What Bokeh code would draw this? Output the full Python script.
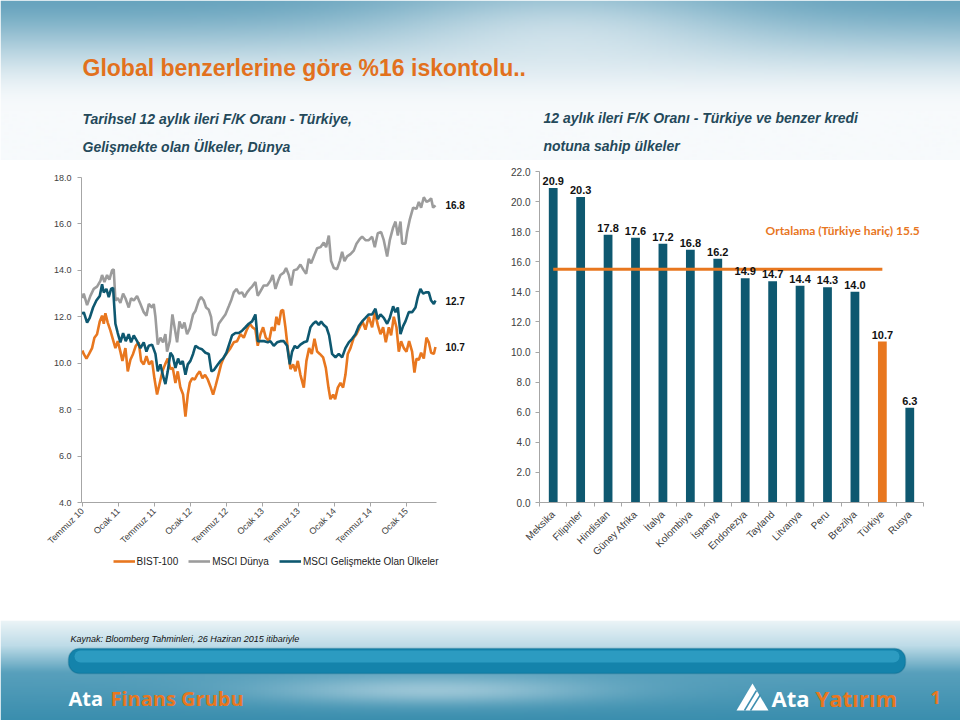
import numpy as np
from math import pi
from bokeh.plotting import figure
from bokeh.layouts import column, row
from bokeh.models import (Range1d, FixedTicker, NumeralTickFormatter, Legend, LegendItem,
                          Label, BoxAnnotation)
from bokeh.core.properties import value
from bokeh.embed import file_html
from bokeh.resources import INLINE

# ---------------- data ----------------
TITLE = "Global benzerlerine göre %16 iskontolu.."
SUB_LEFT = ["Tarihsel 12 aylık ileri F/K Oranı -  Türkiye,", "Gelişmekte olan Ülkeler, Dünya"]
SUB_RIGHT = ["12 aylık ileri F/K Oranı -  Türkiye ve benzer kredi", "notuna sahip ülkeler"]
SOURCE = "Kaynak: Bloomberg Tahminleri, 26 Haziran 2015 itibariyle"

# months since July 2010
tick_months = [0, 6, 12, 18, 24, 30, 36, 42, 48, 54]
tick_labels = ["Temmuz 10", "Ocak 11", "Temmuz 11", "Ocak 12", "Temmuz 12",
               "Ocak 13", "Temmuz 13", "Ocak 14", "Temmuz 14", "Ocak 15"]

bist_m = [0.0, 0.22, 0.67, 1.11, 1.61, 2.0, 2.44, 2.89, 3.28, 3.56,
          3.83, 4.22, 4.67, 5.06, 5.5, 5.89, 6.33, 6.67, 7.17, 7.56,
          8.0, 8.44, 8.89, 9.39, 9.78, 10.22, 10.67, 11.11, 11.61, 12.0,
          12.44, 12.89, 13.33, 13.78, 14.22, 14.67, 15.06, 15.5, 15.89, 16.33,
          16.78, 17.17, 17.56, 17.89, 18.28, 18.72, 19.11, 19.56, 20.0, 20.44,
          20.89, 21.33, 21.78, 22.22, 22.67, 23.11, 23.56, 24.11, 24.67, 25.22,
          25.78, 26.33, 26.89, 27.33, 27.89, 28.33, 28.83, 29.22, 29.67, 30.11,
          30.56, 31.11, 31.56, 32.0, 32.33, 32.72, 33.11, 33.44, 33.83, 34.22,
          34.67, 35.11, 35.5, 35.89, 36.33, 36.89, 37.33, 37.78, 38.22, 38.67,
          39.11, 39.56, 40.11, 40.56, 41.0, 41.33, 41.78, 42.11, 42.56, 43.0,
          43.44, 43.83, 44.22, 44.67, 45.22, 45.67, 46.22, 46.67, 47.17, 47.72,
          48.28, 48.72, 49.22, 49.67, 50.11, 50.56, 51.06, 51.44, 51.89, 52.33,
          52.72, 53.11, 53.56, 54.0, 54.44, 54.94, 55.33, 55.67, 56.06, 56.44,
          56.89, 57.33, 57.72, 58.11, 58.56, 58.83]
bist_v = [10.55, 10.4, 10.2, 10.4, 10.65, 11.1, 11.25, 11.8, 12.05, 11.7,
          12.15, 11.75, 11.4, 11.05, 10.65, 10.95, 10.5, 10.1, 10.65, 9.65,
          10.15, 10.4, 10.75, 10.9, 10.1, 9.95, 10.3, 9.95, 10.1, 9.35,
          8.65, 9.15, 9.65, 9.95, 10.2, 9.75, 9.8, 9.15, 9.65, 8.95,
          8.65, 7.7, 8.65, 9.15, 9.35, 9.3, 9.5, 9.65, 9.35, 9.5,
          9.3, 9.0, 8.65, 9.05, 9.5, 9.95, 10.25, 10.45, 10.65, 10.9,
          10.95, 11.25, 11.1, 11.4, 11.7, 11.55, 11.45, 10.75, 11.25, 11.55,
          11.1, 10.95, 11.55, 11.4, 12.0, 11.65, 12.25, 12.3, 11.55, 10.65,
          9.75, 9.95, 9.65, 10.1, 9.5, 8.95, 10.1, 10.65, 10.4, 11.05,
          10.5, 10.4, 10.25, 9.8, 8.95, 8.45, 8.65, 8.45, 8.95, 9.15,
          8.95, 9.5, 10.4, 10.65, 11.1, 11.25, 11.55, 11.8, 11.45, 12.0,
          11.55, 12.2, 11.65, 11.25, 11.55, 10.9, 11.55, 11.2, 12.0, 11.55,
          10.5, 10.95, 10.65, 10.5, 10.95, 10.5, 9.6, 10.2, 10.15, 10.45,
          10.2, 11.1, 10.9, 10.45, 10.4, 10.7]

dunya_m = [0.0, 0.22, 0.78, 1.33, 1.89, 2.44, 3.0, 3.28, 3.67, 4.11,
           4.5, 4.94, 5.22, 5.5, 5.89, 6.33, 6.78, 7.17, 7.72, 8.11,
           8.56, 9.11, 9.67, 10.22, 10.67, 11.06, 11.61, 11.89, 12.17, 12.56,
           13.0, 13.44, 13.83, 14.11, 14.56, 15.0, 15.39, 15.78, 16.17, 16.61,
           17.0, 17.44, 17.89, 18.44, 18.83, 19.39, 19.78, 20.22, 20.61, 21.06,
           21.44, 21.78, 22.22, 22.72, 23.28, 23.83, 24.39, 24.78, 25.22, 25.67,
           26.11, 26.61, 27.0, 27.44, 27.89, 28.28, 28.83, 29.22, 29.67, 30.22,
           30.78, 31.33, 31.72, 32.17, 32.61, 33.0, 33.56, 33.94, 34.39, 34.78,
           35.22, 35.78, 36.33, 36.89, 37.28, 37.72, 38.11, 38.56, 39.11, 39.67,
           40.22, 40.61, 41.06, 41.44, 41.89, 42.44, 42.89, 43.28, 43.67, 44.11,
           44.67, 45.22, 45.67, 46.22, 46.61, 47.17, 47.72, 48.28, 48.72, 49.22,
           49.78, 50.22, 50.78, 51.22, 51.78, 52.17, 52.56, 53.0, 53.28, 53.83,
           54.11, 54.56, 55.11, 55.67, 56.06, 56.44, 56.89, 57.33, 57.72, 58.11,
           58.44, 58.83]
dunya_v = [12.8, 13.0, 12.5, 12.9, 13.2, 13.3, 13.55, 13.8, 13.5, 13.8,
           13.6, 14.0, 14.05, 12.7, 12.8, 12.6, 13.0, 12.8, 12.4, 12.8,
           12.7, 12.9, 12.55, 12.2, 12.05, 12.55, 12.4, 12.55, 12.0, 10.8,
           11.1, 10.9, 11.25, 10.5, 10.95, 12.1, 11.5, 10.9, 11.8, 11.5,
           11.75, 11.25, 11.5, 12.1, 12.25, 12.7, 12.85, 12.7, 12.4, 12.3,
           12.0, 11.25, 11.2, 11.7, 11.9, 12.1, 12.45, 12.7, 13.05, 13.2,
           13.0, 13.05, 12.85, 13.05, 13.2, 13.3, 13.5, 12.9, 13.1, 13.35,
           13.35, 13.55, 13.8, 13.2, 13.55, 13.8, 13.9, 14.1, 13.8, 13.35,
           14.0, 14.05, 14.25, 14.0, 13.85, 14.5, 14.3, 14.6, 14.95, 15.0,
           15.2, 15.0, 15.5, 14.4, 14.1, 14.05, 14.4, 14.8, 14.4, 14.6,
           14.7, 14.85, 15.15, 15.35, 15.45, 15.3, 15.3, 15.45, 15.0, 15.6,
           15.65, 15.3, 14.6, 15.3, 15.85, 16.1, 15.5, 16.1, 15.15, 15.15,
           15.65, 16.2, 16.7, 16.65, 16.95, 16.7, 17.15, 16.95, 17.0, 17.1,
           16.7, 16.8]

em_m = [0.0, 0.22, 0.78, 1.22, 1.78, 2.33, 2.89, 3.28, 3.56, 4.0,
        4.39, 4.78, 5.11, 5.5, 5.89, 6.33, 6.78, 7.22, 7.72, 8.11,
        8.56, 9.11, 9.67, 10.22, 10.67, 11.06, 11.61, 12.17, 12.56, 13.0,
        13.44, 13.83, 14.22, 14.67, 15.06, 15.5, 15.94, 16.33, 16.72, 17.17,
        17.56, 18.0, 18.44, 18.83, 19.39, 19.94, 20.5, 21.06, 21.5, 21.89,
        22.44, 23.0, 23.44, 24.0, 24.56, 24.94, 25.5, 26.06, 26.61, 27.17,
        27.72, 28.28, 28.83, 29.22, 29.78, 30.33, 30.89, 31.33, 31.89, 32.44,
        33.0, 33.56, 34.11, 34.56, 34.94, 35.39, 35.78, 36.33, 36.89, 37.44,
        38.0, 38.44, 38.89, 39.39, 39.78, 40.22, 40.67, 41.11, 41.61, 42.17,
        42.72, 43.28, 43.83, 44.39, 44.94, 45.5, 46.06, 46.61, 47.17, 47.72,
        48.28, 48.83, 49.22, 49.67, 50.22, 50.78, 51.22, 51.78, 52.17, 52.56,
        53.0, 53.44, 53.83, 54.39, 54.94, 55.5, 55.89, 56.33, 56.78, 57.22,
        57.72, 58.11, 58.56, 58.83]
em_v = [12.1, 12.2, 11.75, 11.95, 12.4, 12.7, 12.9, 13.4, 13.05, 13.2,
        12.85, 13.2, 13.25, 11.7, 11.3, 10.9, 11.3, 10.95, 11.25, 10.9,
        11.2, 10.95, 10.65, 10.9, 10.5, 10.75, 10.8, 10.4, 9.65, 9.95,
        9.45, 9.1, 9.65, 10.45, 10.3, 9.8, 10.2, 9.95, 10.1, 9.5,
        9.95, 10.1, 10.4, 10.75, 10.65, 10.6, 10.45, 10.4, 9.65, 9.7,
        9.9, 10.1, 10.2, 10.45, 10.9, 11.2, 11.3, 11.3, 11.4, 11.55,
        11.7, 11.8, 12.1, 10.95, 10.95, 10.95, 10.9, 10.95, 10.75, 10.9,
        10.95, 10.95, 10.75, 9.95, 10.5, 10.75, 10.65, 10.8, 10.9, 10.95,
        11.55, 11.7, 11.8, 11.65, 11.8, 11.65, 11.55, 11.2, 10.4, 10.25,
        10.4, 10.25, 10.65, 10.9, 11.05, 11.25, 11.6, 11.8, 11.95, 12.1,
        12.1, 12.35, 11.9, 12.1, 11.95, 11.7, 11.95, 12.45, 12.2, 12.4,
        11.25, 11.6, 11.8, 12.2, 12.2, 12.4, 12.85, 13.2, 13.0, 13.05,
        13.05, 12.7, 12.55, 12.7]

series_names = ["BIST-100", "MSCI Dünya", "MSCI Gelişmekte Olan Ülkeler"]

countries = ["Meksika", "Filipinler", "Hindistan", "Güney Afrika", "İtalya", "Kolombiya",
             "İspanya", "Endonezya", "Tayland", "Litvanya", "Peru", "Brezilya", "Türkiye", "Rusya"]
pe_values = [20.9, 20.3, 17.8, 17.6, 17.2, 16.8, 16.2, 14.9, 14.7, 14.4, 14.3, 14.0, 10.7, 6.3]
highlight = "Türkiye"
avg_value = 15.5
avg_text = "Ortalama (Türkiye hariç) 15.5"

# ---------------- style ----------------
FONT = "Liberation Sans"
ORANGE = "#E8771F"
GRAY = "#9C9C9C"
TEAL = "#0E5870"
AXIS = "#A6A6A6"
LABEL = "#404040"
SUBCOL = "#24495A"
W = 960


def plain(p):
    p.min_border = 0
    p.outline_line_color = None
    p.grid.visible = False
    return p


def rgba_image(rgb):
    h, w, _ = rgb.shape
    img = np.empty((h, w), dtype=np.uint32)
    view = img.view(dtype=np.uint8).reshape((h, w, 4))
    view[:, :, :3] = np.clip(rgb, 0, 255).astype(np.uint8)
    view[:, :, 3] = 255
    return img


def style_axis(ax, size):
    ax.axis_line_color = AXIS
    ax.major_tick_line_color = AXIS
    ax.minor_tick_line_color = None
    ax.major_tick_in = 0
    ax.major_tick_out = 4
    ax.major_label_text_font = FONT
    ax.major_label_text_font_size = size
    ax.major_label_text_color = LABEL


# ---------------- header (page y 0..160) ----------------
HH = 160
hdr = plain(figure(width=W, height=HH, x_range=Range1d(0, W), y_range=Range1d(0, HH),
                   x_axis_location=None, y_axis_location=None, output_backend="svg",
                   toolbar_location=None, background_fill_color="white", border_fill_color="white"))
gh, gw = 80, 240
ry = HH - (np.arange(gh)[:, None] + 0.5) * (HH / gh)
rx = np.arange(gw)[None, :] * (W / gw)
t = np.clip(ry / 110.0, 0, 1) ** 0.8
t = 3 * t ** 2 - 2 * t ** 3
top_c = np.array([104, 164, 190], dtype=float)
white = np.array([247, 250, 252], dtype=float)
base = top_c[None, None, :] * (1 - t[..., None]) + white[None, None, :] * t[..., None]
base = np.broadcast_to(base, (gh, gw, 3))
cloud = (np.exp(-((rx - 560) / 190.0) ** 2) * np.exp(-((ry - 30) / 50.0) ** 2)) * 0.55
cloud = np.broadcast_to(cloud, (gh, gw))
rgb = base * (1 - cloud[..., None]) + white[None, None, :] * cloud[..., None]
hdr.image_rgba(image=[rgba_image(rgb)], x=0, y=0, dw=W, dh=HH)

hdr.text(x=[82], y=[HH - 67], text=[TITLE], text_font=value(FONT), text_font_style="bold",
         text_font_size="23px", text_color="#E2711D", text_baseline="middle")
hdr.text(x=[82, 82], y=[HH - 118, HH - 146], text=SUB_LEFT, text_font=value(FONT),
         text_font_style="bold italic", text_font_size="14px", text_color=SUBCOL, text_baseline="middle")
hdr.text(x=[543, 543], y=[HH - 117, HH - 145], text=SUB_RIGHT, text_font=value(FONT),
         text_font_style="bold italic", text_font_size="14px", text_color=SUBCOL, text_baseline="middle")

# ---------------- left chart (page x 0..490, y 160..555) ----------------
x_end = 58.95
left = figure(width=490, height=395, x_range=Range1d(-0.15, 64.67), y_range=Range1d(4, 18),
              output_backend="svg", toolbar_location=None,
              min_border_left=81, min_border_right=20, min_border_top=17, min_border_bottom=53,
              background_fill_color="white", border_fill_color="white", outline_line_color=None)
left.grid.visible = False
left.line(bist_m, bist_v, line_color=ORANGE, line_width=2.6)
left.line(dunya_m, dunya_v, line_color=GRAY, line_width=2.6)
left.line(em_m, em_v, line_color=TEAL, line_width=2.6)

left.xaxis.ticker = FixedTicker(ticks=tick_months)
left.xaxis.bounds = (-0.15, x_end)
left.xaxis.major_label_overrides = {m: lab for m, lab in zip(tick_months, tick_labels)}
left.xaxis.major_label_orientation = pi / 4
left.yaxis.ticker = FixedTicker(ticks=list(range(4, 19, 2)))
left.yaxis.formatter = NumeralTickFormatter(format="0.0")
style_axis(left.xaxis[0], "9px")
style_axis(left.yaxis[0], "9px")
left.xaxis.major_label_standoff = 3
left.yaxis.major_label_standoff = 6

for xs, ys in ((dunya_m, dunya_v), (em_m, em_v), (bist_m, bist_v)):
    left.add_layout(Label(x=xs[-1], y=ys[-1], text=f"{ys[-1]:.1f}", x_offset=10,
                          text_baseline="middle", text_font=FONT, text_font_style="bold",
                          text_font_size="10px", text_color="#111111"))

# legend strip under the left chart (page y 555..620)
leg_fig = plain(figure(width=490, height=65, x_range=Range1d(0, 1), y_range=Range1d(0, 1),
                       x_axis_location=None, y_axis_location=None, output_backend="svg",
                       toolbar_location=None, background_fill_color="white",
                       border_fill_color="white"))
# off-screen stand-ins so that the legend can draw its line swatches
leg_rs = [leg_fig.line(x=[-5, -4], y=[-5, -4], line_color=c, line_width=2.6)
          for c in (ORANGE, GRAY, TEAL)]
legend = Legend(items=[LegendItem(label=n, renderers=[r]) for n, r in zip(series_names, leg_rs)],
                orientation="horizontal", location="top_center", label_text_font=FONT,
                label_text_font_size="10px", label_text_color="#222222", glyph_width=22,
                glyph_height=12, label_height=12,
                label_standoff=2, spacing=10, border_line_color=None, background_fill_alpha=0,
                padding=0, margin=0)
leg_fig.add_layout(legend)

# ---------------- right chart (page x 490..960) ----------------
n_cty = len(countries)
slot_centers = [i + 0.5 for i in range(n_cty)]
slot_edges = list(range(n_cty + 1))
right = figure(width=470, height=460, x_range=Range1d(0, n_cty), y_range=Range1d(0, 22),
               output_backend="svg", toolbar_location=None,
               min_border_left=49, min_border_right=37, min_border_top=11, min_border_bottom=118,
               background_fill_color="white", border_fill_color="white", outline_line_color=None)
right.grid.visible = False
bar_colors = [ORANGE if c == highlight else TEAL for c in countries]
right.vbar(x=slot_centers, top=pe_values, width=0.32, fill_color=bar_colors, line_color=None)
right.line(x=[slot_centers[0], slot_centers[countries.index(highlight)]], y=[avg_value, avg_value],
           line_color=ORANGE, line_width=3)
right.text(x=slot_centers, y=pe_values, text=[f"{v:.1f}" for v in pe_values], text_align="center",
           text_baseline="bottom", y_offset=-3, text_font=value(FONT), text_font_style="bold",
           text_font_size="11px", text_color="#111111")
right.text(x=[slot_centers[-1]], y=[avg_value + 2.6], text=[avg_text], text_align="right",
           text_baseline="middle", x_offset=10, text_font=value("Lato"), text_font_style="bold",
           text_font_size="12px", text_color=ORANGE)

right.xaxis.ticker = FixedTicker(ticks=slot_centers, minor_ticks=slot_edges)
right.xaxis.major_label_overrides = {c: name for c, name in zip(slot_centers, countries)}
right.xaxis.major_label_orientation = pi / 4
style_axis(right.xaxis[0], "10px")
right.xaxis.major_tick_out = 0
right.xaxis.minor_tick_line_color = AXIS
right.xaxis.minor_tick_in = 0
right.xaxis.minor_tick_out = 4
right.xaxis.major_label_standoff = 6
right.yaxis.ticker = FixedTicker(ticks=list(range(0, 23, 2)))
right.yaxis.formatter = NumeralTickFormatter(format="0.0")
style_axis(right.yaxis[0], "10px")
right.yaxis.major_label_standoff = 5

# ---------------- footer (page y 620..720) ----------------
FH = 100
ftr = plain(figure(width=W, height=FH, x_range=Range1d(0, W), y_range=Range1d(0, FH),
                   x_axis_location=None, y_axis_location=None, output_backend="svg",
                   toolbar_location=None, background_fill_color="white", border_fill_color="white"))
fh, fw = 50, 240
fry = 720 - (np.arange(fh)[:, None] + 0.5) * (FH / fh)
frx = np.arange(fw)[None, :] * (W / fw)
stops_y = np.array([620, 645, 672, 720], dtype=float)
stops_c = np.array([[236, 244, 247], [190, 220, 232], [88, 160, 188], [58, 142, 174]], dtype=float)
fcol = np.stack([np.interp(fry[:, 0], stops_y, stops_c[:, k]) for k in range(3)], axis=-1)
fcol = np.broadcast_to(fcol[:, None, :], (fh, fw, 3)).copy()
fcl = (np.exp(-((frx - 430) / 170.0) ** 2) * np.exp(-((fry - 690) / 14.0) ** 2)) * 0.45
fcol = fcol * (1 - fcl[..., None]) + white[None, None, :] * fcl[..., None]
ftr.image_rgba(image=[rgba_image(fcol)], x=0, y=0, dw=W, dh=FH)

ftr.add_layout(BoxAnnotation(left=68, right=905, bottom=720 - 673, top=720 - 648,
                             fill_color="#1483AB", fill_alpha=1, line_color="#0B6384",
                             line_width=1.5, border_radius=11))
ftr.add_layout(BoxAnnotation(left=74, right=899, bottom=720 - 662, top=720 - 650,
                             fill_color="#3FAED3", fill_alpha=0.55, line_color=None, border_radius=7))
ftr.text(x=[70], y=[720 - 638], text=[SOURCE], text_font=value(FONT), text_font_style="italic",
         text_font_size="9px", text_color="#111111", text_baseline="middle")
ftr.text(x=[897], y=[720 - 661], text=["www.atayatirim.com.tr"], text_font=value(FONT),
         text_font_style="bold", text_font_size="8px", text_color="white",
         text_align="right", text_baseline="middle")
ftr.text(x=[68], y=[720 - 698], text=["Ata"], text_font=value("Open Sans"), text_font_style="bold",
         text_font_size="20px", text_color="white", text_baseline="middle")
ftr.text(x=[110], y=[720 - 698], text=["Finans Grubu"], text_font=value("Open Sans"),
         text_font_style="bold", text_font_size="20px", text_color=ORANGE, text_baseline="middle")
ftr.patch(x=[736, 752, 768], y=[720 - 710, 720 - 683, 720 - 710], fill_color="white", line_color=None)
ftr.line(x=[744, 756], y=[720 - 710, 720 - 690], line_color="#3E8FB0", line_width=1.5)
ftr.line(x=[750, 760], y=[720 - 710, 720 - 694], line_color="#3E8FB0", line_width=1.5)
ftr.text(x=[771], y=[720 - 697], text=["Ata"], text_font=value("Open Sans"), text_font_style="bold",
         text_font_size="22px", text_color="white", text_baseline="middle")
ftr.text(x=[815], y=[720 - 697], text=["Yatırım"], text_font=value("Open Sans"),
         text_font_style="bold", text_font_size="22px", text_color=ORANGE, text_baseline="middle")
ftr.text(x=[930], y=[720 - 697], text=["1"], text_font=value("Open Sans"), text_font_style="bold",
         text_font_size="18px", text_color=ORANGE, text_baseline="middle")

page = column(hdr, row(column(left, leg_fig, spacing=0), right, spacing=0), ftr, spacing=0)
open("out.html", "w").write(file_html(page, INLINE))
